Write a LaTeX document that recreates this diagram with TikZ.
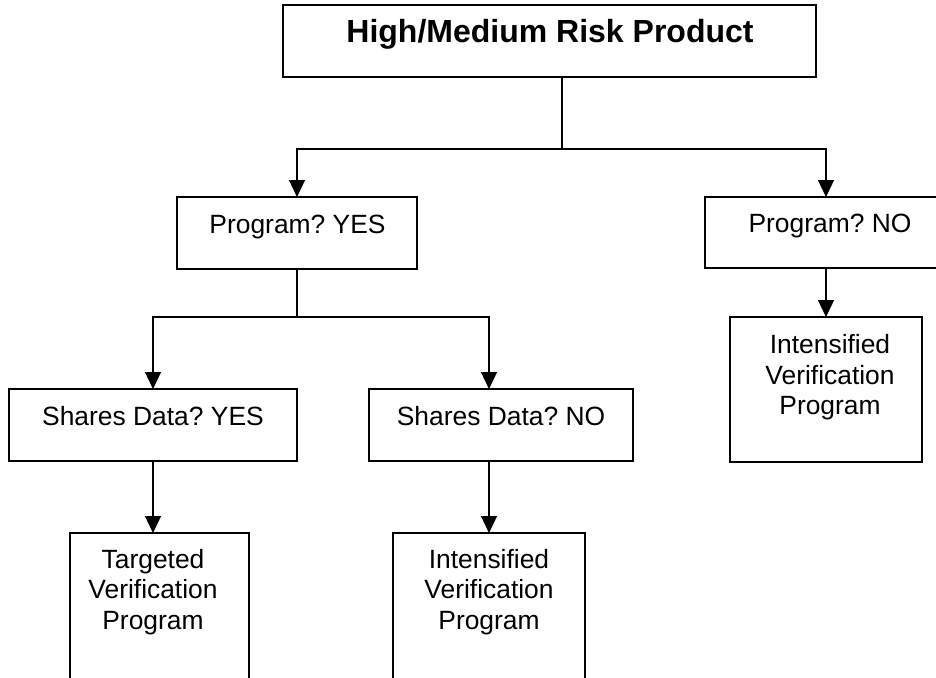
\documentclass[tikz,border=0pt]{standalone}
\usepackage{fontspec}
\setmainfont{Liberation Sans}
\usetikzlibrary{arrows.meta}
\frenchspacing
\begin{document}
\begin{tikzpicture}[x=1pt,y=-1pt,
  box/.style={draw=black,line width=1.3pt,rectangle,inner sep=0pt,outer sep=0pt},
  txt/.style={anchor=base,inner sep=0pt,font=\frenchspacing\fontsize{26.4}{30}\selectfont},
  ttl/.style={anchor=base,inner sep=0pt,font=\bfseries\fontsize{32}{36}\selectfont},
  conn/.style={line width=1.3pt},
  arr/.style={line width=1.3pt,-{Triangle[length=17pt,width=16pt]}}]
\useasboundingbox (0,0) rectangle (936,677);
\clip (0,0) rectangle (936,677);
% boxes
\node[box,minimum width=533pt,minimum height=72pt] (top) at (549.5,41) {};
\node[box,minimum width=240pt,minimum height=72pt] (pyes) at (297,233) {};
\node[box,minimum width=250pt,minimum height=71pt] (pno) at (830,232.5) {};
\node[box,minimum width=288pt,minimum height=72pt] (syes) at (153,425) {};
\node[box,minimum width=264pt,minimum height=72pt] (sno) at (501,425) {};
\node[box,minimum width=179pt,minimum height=157pt] (targ) at (159.5,611.5) {};
\node[box,minimum width=192pt,minimum height=157pt] (mid) at (489,611.5) {};
\node[box,minimum width=192pt,minimum height=145pt] (ir) at (826,389.5) {};
% texts
\node[ttl] (t0) at (550,42) {High/Medium Risk Product};
\node[txt] (t1) at (297.5,233) {Program? YES};
\node[txt] (t2) at (830,232) {Program? NO};
\node[txt] (t3) at (153,425) {Shares Data? YES};
\node[txt] (t4) at (501,425) {Shares Data? NO};
\node[txt] (t5a) at (153,568) {Targeted};
\node[txt] (t5b) at (153,598) {Verification};
\node[txt] (t5c) at (153,629) {Program};
\node[txt] (t6a) at (489,568) {Intensified};
\node[txt] (t6b) at (489,598) {Verification};
\node[txt] (t6c) at (489,629) {Program};
\node[txt] (t7a) at (830,353) {Intensified};
\node[txt] (t7b) at (830,384) {Verification};
\node[txt] (t7c) at (830,414) {Program};
% connectors
\coordinate (j1) at (562,149);
\coordinate (j2) at (297,317);
\draw[conn] (top.south -| j1) -- (j1);
\draw[arr] (j1) -| (pyes.north);
\draw[arr] (j1) -| ([xshift=-4pt]pno.north);
\draw[conn] (pyes.south) -- (j2);
\draw[arr] (j2) -| (syes.north);
\draw[arr] (j2) -| ([xshift=-12pt]sno.north);
\draw[arr] (syes.south) -- (syes.south |- targ.north);
\draw[arr] ([xshift=-12pt]sno.south) -- ([xshift=-12pt]sno.south |- mid.north);
\draw[arr] (ir.north |- pno.south) -- (ir.north);
\end{tikzpicture}
\end{document}
